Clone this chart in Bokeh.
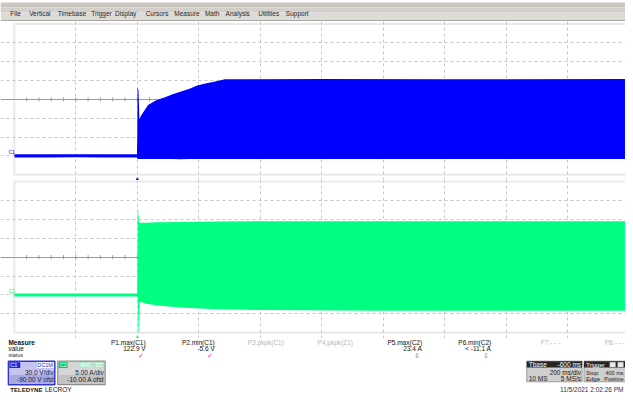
import numpy as np
from bokeh.plotting import figure
from bokeh.models import Range1d, Grid, FixedTicker, Label, BoxAnnotation
from bokeh.layouts import column
from bokeh.embed import file_html
from bokeh.resources import INLINE

# ---------------- data ----------------
menu_items = ["File", "Vertical", "Timebase", "Trigger", "Display", "Cursors",
              "Measure", "Math", "Analysis", "Utilities", "Support"]

# timebase
t_div_ms = 200.0
t_start_ms = -400.0
n_xdiv = 10

# channel settings
c1_vdiv = 30.0
c1_offset = -90.0
c2_adiv = 5.0
c2_offset = -10.0

# C1 (V) envelope
c1_t = [-400, -300, -200, -100, -1, 0, 1, 4, 7, 12, 35, 60, 88, 115, 140, 170, 195, 225, 250, 285, 600, 1000, 1600]
c1_lo = [-2.5, -2.6, -2.4, -2.7, -2.5, -4, -5, -5, -5, -5, -5.2, -5, -5, -5.1, -5.3, -5, -5, -5.2, -5.1, -5, -5.2, -5, -5.1]
c1_hi = [2.4, 2.6, 2.5, 2.7, 2.5, 30, 110, 104, 58, 64, 81, 88, 93, 98, 102, 107, 112, 115.5, 118, 122, 122.5, 122, 122.3]

# C2 (A) envelope
c2_t = [-400, -200, -1, 0, 2, 4, 6, 8, 30, 66, 152, 259, 420, 800, 1600]
c2_lo = [-0.4, -0.4, -0.4, -0.4, -1, -10, -10, -1.8, -2.3, -2.8, -3.4, -3.8, -4.0, -4.2, -4.2]
c2_hi = [0.4, 0.4, 0.4, 0.4, 23.1, 21, 19.1, 19.1, 19.1, 19.2, 19.3, 19.4, 19.5, 19.5, 19.5]

# measurement table
meas_names = ["P1.max(C1)", "P2.min(C1)", "P3.pkpk(C1)", "P4.pkpk(Z1)",
              "P5.max(C2)", "P6.min(C2)", "P7:- - -", "P8:- - -"]
meas_values = ["122.9 V", "-5.6 V", "", "", "23.4 A", "< -11.1 A", "", ""]
meas_status = ["\u2713", "\u2713", "", "", "\u21e9", "\u21e9", "", ""]
meas_active = [True, True, False, False, True, True, False, False]

c1_box = ["C1", "DC1M", "30.0 V/div", "-90.00 V ofst"]
c2_box = ["C2", "BWL", "DC", "5.00 A/div", "-10.00 A ofst"]
tbase_box = ["Tbase", "-600 ms", "200 ms/div", "10 MS", "5 MS/s"]
trig_box = ["Trigger", "Stop", "400 ms", "Edge", "Positive"]
timestamp = "11/5/2021 2:02:26 PM"

# ---------------- layout / style ----------------
FONT = "Liberation Sans"
W, H = 625, 394            # page area
REF_W, REF_H = 633.0, 402.0  # design coordinates
SX, SY = W / REF_W, H / REF_H
DIV_REF = 62.26            # one time division in design px
PANEL_LEFT = 14.0          # left border of the scope grid (design px)
C1_COL = "#0000ff"
C2_COL = "#00ff80"
GRID_COL = "#c6c6c6"
BORDER_COL = "#b4b4b4"

# figure stacking (page px)
menu_h, c1_h, c2_h = 21, 159, 158
meas_h = H - menu_h - c1_h - c2_h
Y1 = menu_h / SY
Y2 = (menu_h + c1_h) / SY
Y3 = (menu_h + c1_h + c2_h) / SY


def t_at(xref):
    return t_start_ms + (xref - PANEL_LEFT) * t_div_ms / DIV_REF


def lab(p, x, y, s, size=7, color="#202020", align="left", baseline="middle", style="normal"):
    p.add_layout(Label(x=x, y=y, text=s, text_font=FONT, text_font_size=f"{size}px",
                       text_color=color, text_align=align, text_baseline=baseline,
                       text_font_style=style))


def base_fig(height, xr, yr, bg="white"):
    return figure(width=W, height=height, x_range=xr, y_range=yr,
                  x_axis_type=None, y_axis_type=None, output_backend="svg",
                  toolbar_location=None, min_border=0, outline_line_color=None,
                  background_fill_color=bg, border_fill_color=bg)


# ---- menu bar ----
menu = base_fig(menu_h, Range1d(0, REF_W), Range1d(Y1, 0))
for (a, b, c) in [(2, 7, "#c9c5bf"), (7, 12, "#d3d0cb"), (12, 20, "#dedbd7"), (20, 21, "#a8a8a8")]:
    menu.quad(left=0, right=REF_W, top=a, bottom=b, fill_color=c, line_color=None)
menu_x = [10, 29, 58, 92, 116, 147, 176, 207, 228, 261, 289]
for name, mx in zip(menu_items, menu_x):
    lab(menu, mx, 13.5, name, size=6.5, color="#262626")


def scope(height, ytop_ref, ybot_ref, pan_top, pan_bot, vdiv, offset, t, lo, hi, col, name):
    center = -offset
    ylo, yhi = center - 4 * vdiv, center + 4 * vdiv
    vpp = (yhi - ylo) / (pan_bot - pan_top)
    yr = Range1d(ylo - (ybot_ref - pan_bot) * vpp, yhi + (pan_top - ytop_ref) * vpp)
    xr = Range1d(t_at(0), t_at(REF_W))
    p = base_fig(height, xr, yr)
    t_end_panel = t_start_ms + n_xdiv * t_div_ms
    p.add_layout(Grid(dimension=0, bounds=(ylo, yhi),
                      ticker=FixedTicker(ticks=[t_start_ms + i * t_div_ms for i in range(1, n_xdiv)]),
                      grid_line_color=GRID_COL, grid_line_dash="3 3", grid_line_width=1))
    p.add_layout(Grid(dimension=1, bounds=(t_start_ms, t_end_panel),
                      ticker=FixedTicker(ticks=[ylo + i * vdiv for i in range(1, 8) if i != 4]),
                      grid_line_color=GRID_COL, grid_line_dash="3 3", grid_line_width=1))
    p.add_layout(Grid(dimension=1, bounds=(t_start_ms, t_end_panel),
                      ticker=FixedTicker(ticks=[center]),
                      grid_line_color="#9a9a9a", grid_line_width=1))
    ticks_x = np.arange(t_start_ms + t_div_ms / 5, t_end_panel, t_div_ms / 5)
    p.scatter(x=ticks_x, y=np.full(len(ticks_x), center), marker="dash", angle=np.pi / 2,
              size=4, line_color="#9a9a9a")
    p.add_layout(BoxAnnotation(left=t_start_ms, right=t_end_panel, bottom=ylo, top=yhi,
                               fill_color=None, line_color=BORDER_COL, line_width=2))
    p.varea(x=t, y1=lo, y2=hi, fill_color=col)
    ms_pp = t_div_ms / DIV_REF
    lab(p, t_start_ms - 6 * ms_pp, 0 + 1.0 * vpp, name, size=5, color=col, baseline="bottom")
    lab(p, 0, ylo - 3.3 * vpp, "\u25b2", size=5, color=col, align="center")
    return p


c1p = scope(c1_h, Y1, Y2, 24.0, 177.7, c1_vdiv, c1_offset, c1_t, c1_lo, c1_hi, C1_COL, "C1")
c2p = scope(c2_h, Y2, Y3, 184.7, 339.0, c2_adiv, c2_offset, c2_t, c2_lo, c2_hi, C2_COL, "C2")

# ---- measurement / status area (design coordinates) ----
m = base_fig(meas_h, Range1d(0, REF_W), Range1d(REF_H, Y3))

lab(m, 8, 348.5, "Measure", size=6.5, color="#101010", style="bold")
lab(m, 8, 355.5, "value", size=6.5, color="#101010")
lab(m, 8, 362, "status", size=5.5, color="#303030")
meas_right = [147, 217, 287, 357, 427, 497, 567, 632]
for nm, vv, st, act, rx in zip(meas_names, meas_values, meas_status, meas_active, meas_right):
    lab(m, rx, 348.5, nm, size=6.5, color="#101010" if act else "#b8b8b8", align="right")
    if vv:
        lab(m, rx, 355.5, vv, size=6.5, color="#101010", align="right")
    if st:
        lab(m, rx - 2, 362, st, size=7, color="#e040e0" if st == "\u2713" else "#707070",
            align="right")

# C1 box
m.quad(left=8, right=55, top=368, bottom=392, fill_color="#c4c4ee", line_color="#3838c8",
       line_width=1.5)
m.quad(left=9, right=54, top=382, bottom=391, fill_color="#a9a9dd", line_color=None)
m.quad(left=9, right=20, top=369, bottom=375, fill_color="#2020e0", line_color=None)
m.quad(left=37, right=54, top=369, bottom=375, fill_color="#ffffff", line_color=None)
lab(m, 10, 372, c1_box[0], size=5.5, color="white")
lab(m, 53, 372, c1_box[1], size=5.5, color="#2020e0", align="right")
lab(m, 54, 380, c1_box[2], size=6.5, color="#202040", align="right")
lab(m, 54, 387, c1_box[3], size=6.5, color="#202040", align="right")

# C2 box
m.quad(left=58, right=106, top=368, bottom=392, fill_color="#d6d6d6", line_color="#8c8c8c",
       line_width=1.2)
m.quad(left=59, right=105, top=382, bottom=391, fill_color="#c2c2c2", line_color=None)
m.quad(left=59, right=68, top=369, bottom=375, fill_color="#00c878", line_color=None)
m.quad(left=80, right=93, top=369, bottom=375, fill_color="#a8e8c4", line_color=None)
m.quad(left=95, right=105, top=369, bottom=375, fill_color="#a8e8c4", line_color=None)
lab(m, 60, 372, c2_box[0], size=5.5, color="white")
lab(m, 86.5, 372, c2_box[1], size=5, color="white", align="center")
lab(m, 100, 372, c2_box[2], size=5, color="white", align="center")
lab(m, 105, 380, c2_box[3], size=6.5, color="#202020", align="right")
lab(m, 105, 387, c2_box[4], size=6.5, color="#202020", align="right")

lab(m, 10, 397, "TELEDYNE", size=6, color="#151515", style="bold")
lab(m, 45, 397, "LECROY", size=6.5, color="#151515")

# Tbase box
m.quad(left=533, right=589, top=368, bottom=389, fill_color="#cfcfcf", line_color="#9a9a9a",
       line_width=1)
m.quad(left=533, right=589, top=368, bottom=374.5, fill_color="#262626", line_color=None)
lab(m, 535, 371.5, tbase_box[0], size=6.5, color="white")
lab(m, 588, 371.5, tbase_box[1], size=6.5, color="white", align="right")
lab(m, 588, 380, tbase_box[2], size=6.5, color="#202020", align="right")
lab(m, 535, 386, tbase_box[3], size=6.5, color="#202020")
lab(m, 588, 386, tbase_box[4], size=6.5, color="#202020", align="right")

# Trigger box
m.quad(left=591, right=640, top=368, bottom=389, fill_color="#cfcfcf", line_color="#9a9a9a",
       line_width=1)
m.quad(left=591, right=640, top=368, bottom=374.5, fill_color="#262626", line_color=None)
m.quad(left=617, right=623, top=369, bottom=374, fill_color="#e8e8e8", line_color=None)
m.quad(left=625, right=631, top=369, bottom=374, fill_color="#e8e8e8", line_color=None)
lab(m, 593, 371.5, trig_box[0], size=6, color="white")
lab(m, 593, 380, trig_box[1], size=6, color="#202020")
lab(m, 631, 380, trig_box[2], size=5.5, color="#202020", align="right")
lab(m, 593, 386, trig_box[3], size=6, color="#202020")
lab(m, 631, 386, trig_box[4], size=5.5, color="#202020", align="right")

lab(m, 631, 397, timestamp, size=6.5, color="#303050", align="right")

layout = column(menu, c1p, c2p, m, spacing=0)
open("out.html", "w").write(file_html(layout, INLINE))
